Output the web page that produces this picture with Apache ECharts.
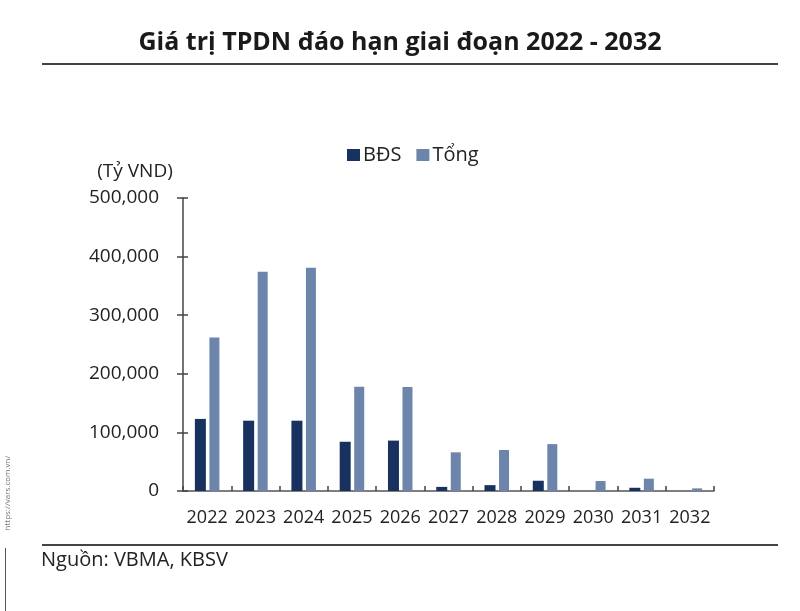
<!DOCTYPE html>
<html><head><meta charset="utf-8">
<script src="https://cdn.jsdelivr.net/npm/echarts@6/dist/echarts.min.js"></script>
<style>html,body{margin:0;padding:0;background:#fff}#c{width:800px;height:611px}</style>
</head><body><div id="c"></div>
<script>
const categories = ['2022','2023','2024','2025','2026','2027','2028','2029','2030','2031','2032'];
const bdsValues = [123000, 120000, 120000, 84000, 86000, 7000, 10000, 17500, 0, 5500, 0];
const tongValues = [262000, 374000, 381000, 178000, 177500, 66000, 70000, 80000, 17000, 21000, 4500];
const yTicks = [0, 100000, 200000, 300000, 400000, 500000];
const seriesNames = ['BĐS', 'Tổng'];

const chart = echarts.init(document.getElementById('c'), null, {renderer: 'canvas'});
const font = '"Open Sans", "Noto Sans", sans-serif';
const yBase = {
  type: 'value', min: 0, max: 500000, interval: 100000, position: 'left',
  splitLine: {show: false}
};
chart.setOption({
  backgroundColor: '#ffffff',
  animation: false,
  textStyle: {fontFamily: font},
  title: {
    text: 'Giá trị TPDN đáo hạn giai đoạn 2022 - 2032',
    left: 'center', top: 25,
    textStyle: {fontFamily: font, fontSize: 25, fontWeight: 'bold', color: '#1a1a1a'}
  },
  legend: {
    data: seriesNames,
    left: 342, top: 140,
    icon: 'rect', itemWidth: 13, itemHeight: 12, itemGap: 15,
    textStyle: {fontFamily: font, fontSize: 20, color: '#222', padding: [0, 0, 0, -2]}
  },
  grid: {left: 183, right: 86, top: 198, bottom: 120, containLabel: false},
  xAxis: {
    type: 'category', data: categories,
    axisLine: {lineStyle: {color: '#555', width: 1.5}},
    axisTick: {show: true, inside: true, length: 5, lineStyle: {color: '#444', width: 1.5}},
    axisLabel: {fontFamily: font, fontSize: 18, color: '#222', margin: 18, interval: 0, hideOverlap: false}
  },
  yAxis: [
    Object.assign({}, yBase, {
      axisLine: {show: true, lineStyle: {color: '#444', width: 1.5}},
      axisTick: {show: true, length: 6, lineStyle: {color: '#444', width: 1.5}},
      axisLabel: {
        fontFamily: font, fontSize: 19, color: '#222', margin: 24,
        formatter: v => yTicks.includes(v) ? v.toLocaleString('en-US') : ''
      }
    }),
    Object.assign({}, yBase, {
      axisLine: {show: false},
      axisTick: {show: true, inside: true, length: 5, lineStyle: {color: '#444', width: 1.5}},
      axisLabel: {show: false}
    })
  ],
  series: [
    {name: seriesNames[0], type: 'bar', data: bdsValues, barWidth: 11, barGap: '32%',
     itemStyle: {color: '#17325e'}},
    {name: seriesNames[1], type: 'bar', data: tongValues, barWidth: 10,
     itemStyle: {color: '#6e85ab'}}
  ],
  graphic: [
    {type: 'rect', shape: {x: 42, y: 63, width: 736, height: 2}, style: {fill: '#444'}},
    {type: 'rect', shape: {x: 42, y: 544, width: 736, height: 2}, style: {fill: '#444'}},
    {type: 'text', x: 135, y: 172, style: {text: '(Tỷ VND)', font: '19px ' + font, fill: '#222', align: 'center', verticalAlign: 'middle'}},
    {type: 'text', x: 41, y: 560, style: {text: 'Nguồn: VBMA, KBSV', font: '20px ' + font, fill: '#222', align: 'left', verticalAlign: 'middle'}},
    {type: 'text', x: 8, y: 493, rotation: Math.PI / 2, style: {text: 'https://vars.com.vn/', font: '8px ' + font, fill: '#777', align: 'center', verticalAlign: 'middle'}},
    {type: 'rect', shape: {x: 5, y: 548, width: 1, height: 63}, style: {fill: '#555'}}
  ]
});
</script></body></html>
